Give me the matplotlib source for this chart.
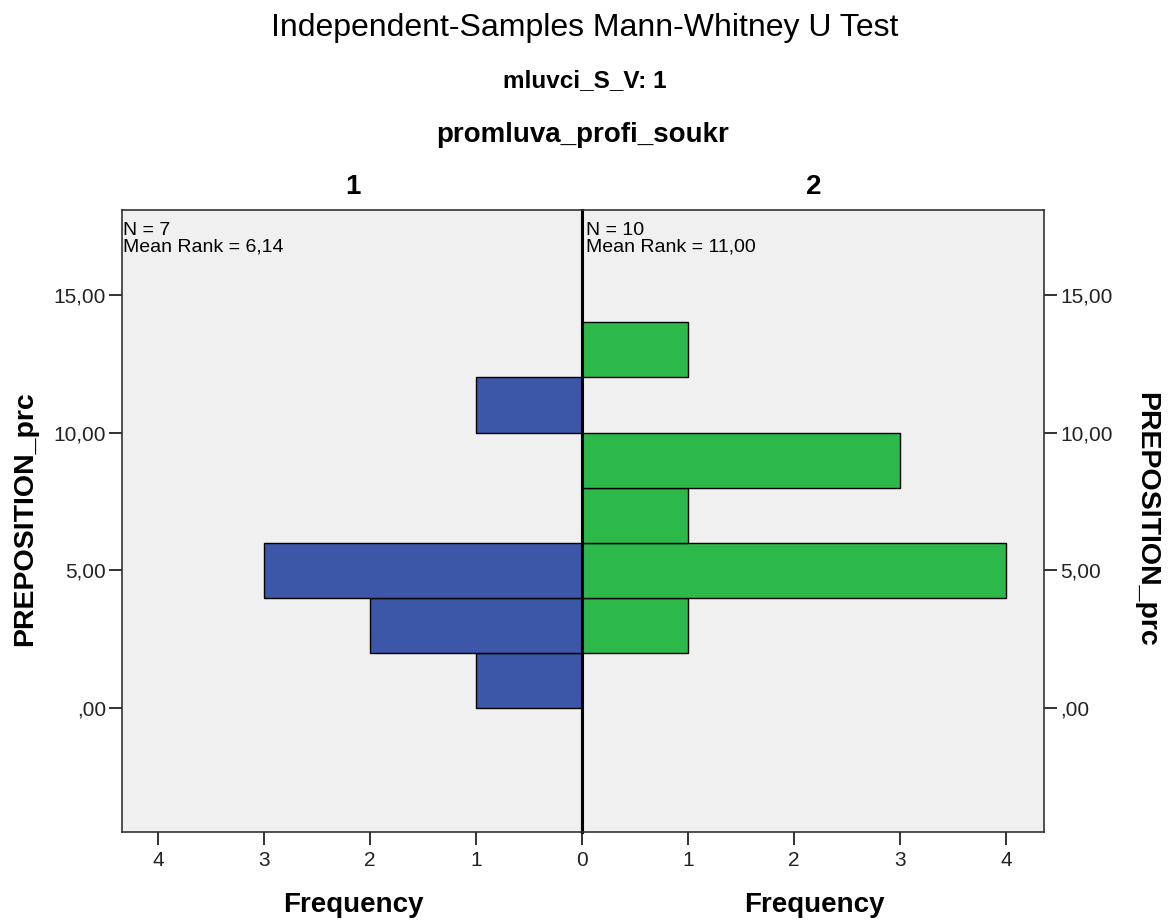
import matplotlib.pyplot as plt
from matplotlib.ticker import FixedLocator

plt.rcParams['font.family'] = ['Liberation Sans', 'DejaVu Sans']

# Histogram data (bins of width 2 on PREPOSITION_prc)
bin_starts = [0, 2, 4, 6, 8, 10, 12]
counts_1 = [1, 2, 3, 0, 0, 1, 0]
counts_2 = [0, 1, 4, 1, 3, 0, 1]
y_ticks = [0, 5, 10, 15]
y_tick_labels = [',00', '5,00', '10,00', '15,00']
group_names = ['1', '2']
stats_1 = 'N = 7\nMean Rank = 6,14'
stats_2 = 'N = 10\nMean Rank = 11,00'

bg = '#f0f0f0'
blue = '#3c56a8'
green = '#2db84a'

W, H = 1170, 922
fig = plt.figure(figsize=(W / 100, H / 100), dpi=100)
ax1 = fig.add_axes([122/W, 90/H, 460/W, 622/H])
ax2 = fig.add_axes([582/W, 90/H, 462/W, 622/H])

ylim = (-4.5, 18.08)
for ax in (ax1, ax2):
    ax.set_facecolor(bg)
    ax.set_ylim(*ylim)
    for sp in ax.spines.values():
        sp.set_color('#333333')
        sp.set_linewidth(1.2)
    ax.tick_params(length=9.5, width=1.3, colors='#222222', labelsize=15, pad=2)

ax1.barh(bin_starts, counts_1, height=2, align='edge', color=blue,
         edgecolor='black', linewidth=1.0)
ax2.barh(bin_starts, counts_2, height=2, align='edge', color=green,
         edgecolor='black', linewidth=1.0)

ax1.set_xlim(4.34, 0)
ax2.set_xlim(0, 4.36)

ax1.xaxis.set_major_locator(FixedLocator([1, 2, 3, 4]))
ax1.set_xticklabels(['1', '2', '3', '4'])
ax2.xaxis.set_major_locator(FixedLocator([0, 1, 2, 3, 4]))
ax2.set_xticklabels(['0', '1', '2', '3', '4'])

ax1.set_yticks(y_ticks)
ax1.set_yticklabels(y_tick_labels)
ax2.set_yticks(y_ticks)
ax2.set_yticklabels(y_tick_labels)
ax2.yaxis.tick_right()

ax1.spines['right'].set_color('black')
ax1.spines['right'].set_linewidth(2.2)
ax2.spines['left'].set_color('black')
ax2.spines['left'].set_linewidth(2.2)
ax1.tick_params(axis='x', pad=4)
ax2.tick_params(axis='x', pad=4)

# axis labels placed in figure pixels
def fig_text(x, y, s, **kw):
    fig.text(x / W, 1 - y / H, s, ha='center', va='center', **kw)

fig_text(25, 519, 'PREPOSITION_prc', fontsize=20.5, fontweight='bold', rotation=90)
fig_text(1146, 519, 'PREPOSITION_prc', fontsize=20.5, fontweight='bold', rotation=-90)
fig_text(353, 905, 'Frequency', fontsize=20, fontweight='bold')
fig_text(814, 905, 'Frequency', fontsize=20, fontweight='bold')
fig_text(353, 187, group_names[0], fontsize=20, fontweight='bold')
fig_text(814, 187, group_names[1], fontsize=20, fontweight='bold')

fig_text(585, 28, 'Independent-Samples Mann-Whitney U Test', fontsize=23)
fig_text(585, 81, 'mluvci_S_V: 1', fontsize=17.5, fontweight='bold')
fig_text(583, 135, 'promluva_profi_soukr', fontsize=20, fontweight='bold')

ax1.text(0.003, 0.98, stats_1, transform=ax1.transAxes, va='top', ha='left',
         fontsize=14, linespacing=0.95)
ax2.text(0.008, 0.98, stats_2, transform=ax2.transAxes, va='top', ha='left',
         fontsize=14, linespacing=0.95)

fig.savefig('out.png', dpi=100, facecolor='white')
